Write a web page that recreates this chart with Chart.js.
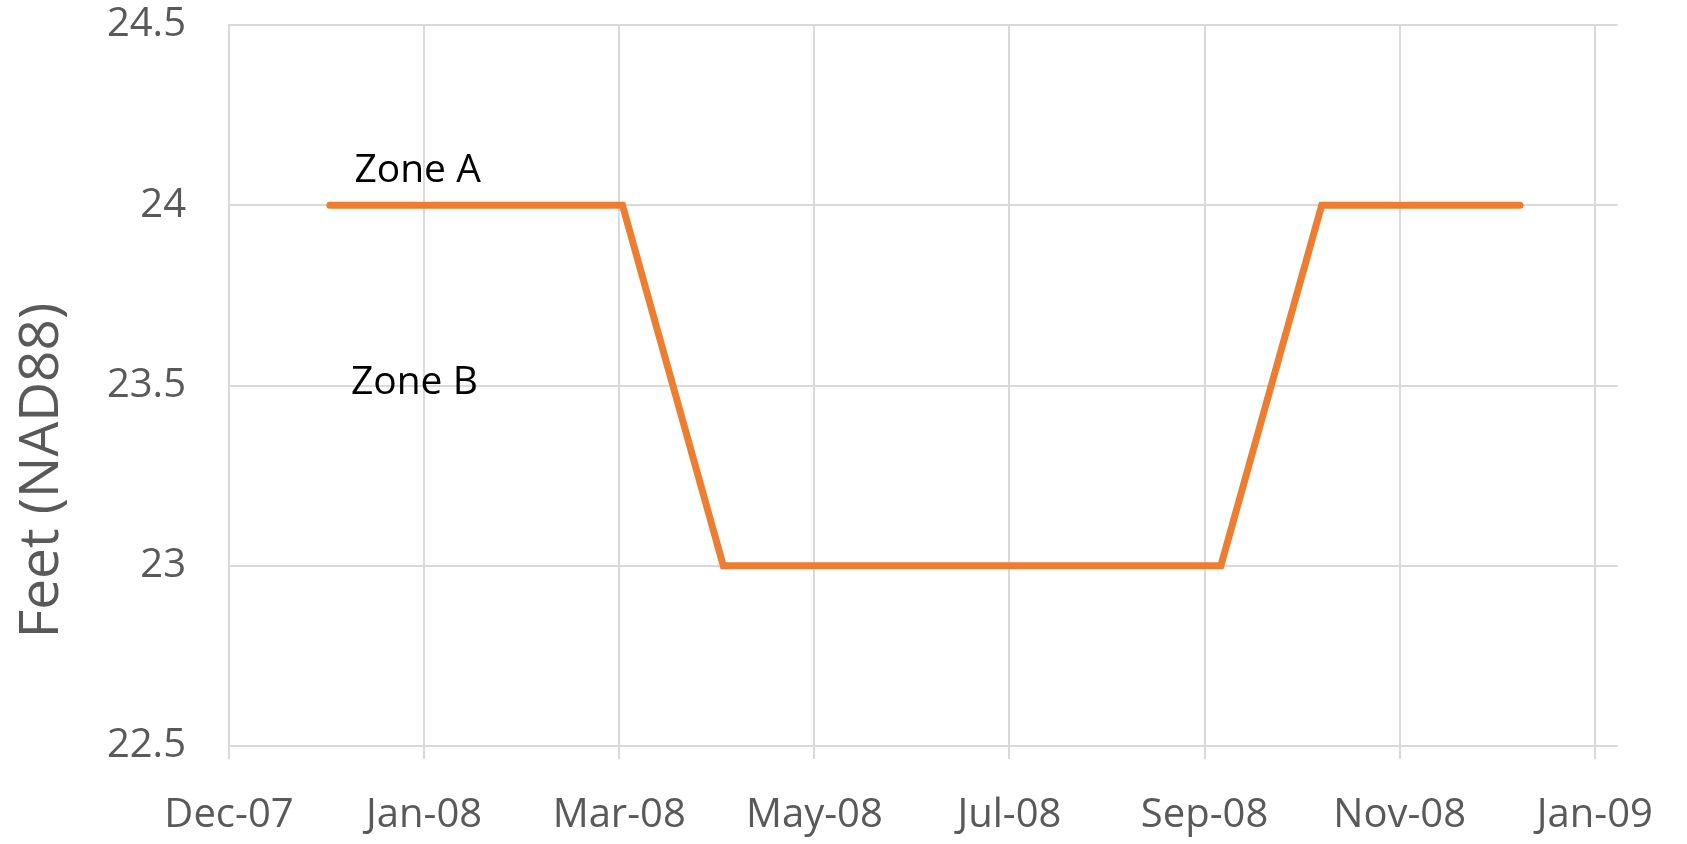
<!DOCTYPE html>
<html>
<head>
<meta charset="utf-8">
<script src="https://cdn.jsdelivr.net/npm/chart.js@4.4.1/dist/chart.umd.min.js"></script>
<style>
  body { margin: 0; background: #fff; }
  #wrap { width: 1687px; height: 844px; position: relative; }
</style>
</head>
<body>
<div id="wrap"><canvas id="levelChart"></canvas></div>
<script>
// data
const pointDates = ['2008-01-01', '2008-03-31', '2008-05-01', '2008-10-01', '2008-11-01', '2009-01-01'];
const levelFeet = [24, 24, 23, 23, 24, 24];

// x axis: Excel style date axis, 60 day major unit starting Dec 1 2007
const axisStart = '2007-12-01';
const axisEnd = '2009-01-31';
const xTickDates = ['2007-12-01', '2008-01-30', '2008-03-30', '2008-05-29', '2008-07-28', '2008-09-26', '2008-11-25', '2009-01-24'];
const xTickLabels = ['Dec-07', 'Jan-08', 'Mar-08', 'May-08', 'Jul-08', 'Sep-08', 'Nov-08', 'Jan-09'];
const yTicks = [22.5, 23, 23.5, 24, 24.5];

// zone annotations (placed in data coordinates)
const zoneNames = ['Zone A', 'Zone B'];
const zoneDates = ['2008-01-28', '2008-01-27'];
const zoneLevels = [24.095, 23.507];

const yTitle = 'Feet (NAD88)';

function dayOf(s) {
    // days since the axis start
    return (Date.parse(s + 'T00:00:00Z') - Date.parse(axisStart + 'T00:00:00Z')) / 86400000;
}

const points = pointDates.map((d, i) => ({ x: dayOf(d), y: levelFeet[i] }));

const gridColor = '#d9d9d9';
const tickColor = '#595959';

// draws the rotated axis title and the two zone labels
const textPlugin = {
    id: 'textPlugin',
    afterDraw(chart) {
        const ctx = chart.ctx;
        const xs = chart.scales.x;
        const ys = chart.scales.y;

        ctx.save();
        ctx.fillStyle = '#000';
        ctx.font = '39px "Open Sans"';
        ctx.textAlign = 'center';
        ctx.textBaseline = 'middle';
        zoneNames.forEach((name, i) => {
            ctx.fillText(name, xs.getPixelForValue(dayOf(zoneDates[i])), ys.getPixelForValue(zoneLevels[i]));
        });
        ctx.restore();

        ctx.save();
        ctx.fillStyle = tickColor;
        ctx.font = '55px "Open Sans"';
        ctx.textAlign = 'center';
        ctx.textBaseline = 'middle';
        ctx.translate(ys.left + 42, (chart.chartArea.top + chart.chartArea.bottom) / 2 + 85);
        ctx.rotate(-Math.PI / 2);
        ctx.fillText(yTitle, 0, 0);
        ctx.restore();
    }
};

Chart.defaults.font.family = '"Open Sans"';

new Chart(document.getElementById('levelChart').getContext('2d'), {
    type: 'line',
    data: {
        datasets: [{
            label: 'Level',
            data: points,
            borderColor: '#ED7D31',
            borderWidth: 7,
            borderCapStyle: 'round',
            borderJoinStyle: 'miter',
            pointRadius: 0,
            tension: 0,
            fill: false
        }]
    },
    options: {
        responsive: true,
        maintainAspectRatio: false,
        animation: false,
        layout: { padding: { left: 0, top: 25, right: 67, bottom: 0 } },
        plugins: {
            legend: { display: false },
            tooltip: { enabled: false }
        },
        scales: {
            x: {
                type: 'linear',
                min: dayOf(axisStart),
                max: dayOf(axisEnd),
                afterBuildTicks: (scale) => {
                    scale.ticks = xTickDates.map(d => ({ value: dayOf(d) }));
                },
                afterFit: (scale) => { scale.height = 98; },
                grid: { color: gridColor, lineWidth: 2, tickLength: 13, drawTicks: true },
                border: { display: false },
                ticks: {
                    autoSkip: false,
                    maxRotation: 0,
                    padding: 33,
                    color: tickColor,
                    font: { size: 40 },
                    callback: (v, i) => xTickLabels[i]
                }
            },
            y: {
                min: 22.5,
                max: 24.5,
                afterBuildTicks: (scale) => {
                    scale.ticks = yTicks.map(v => ({ value: v }));
                },
                afterFit: (scale) => { scale.width = 229; },
                // invisible tick marks give the label gap without padding the top
                grid: { color: gridColor, lineWidth: 2, drawTicks: true, tickLength: 43, tickColor: 'rgba(0,0,0,0)' },
                border: { display: true, color: gridColor, width: 2 },
                ticks: {
                    padding: 0,
                    color: tickColor,
                    font: { size: 40 },
                    callback: (v) => String(v)
                }
            }
        }
    },
    plugins: [textPlugin]
});
</script>
</body>
</html>
